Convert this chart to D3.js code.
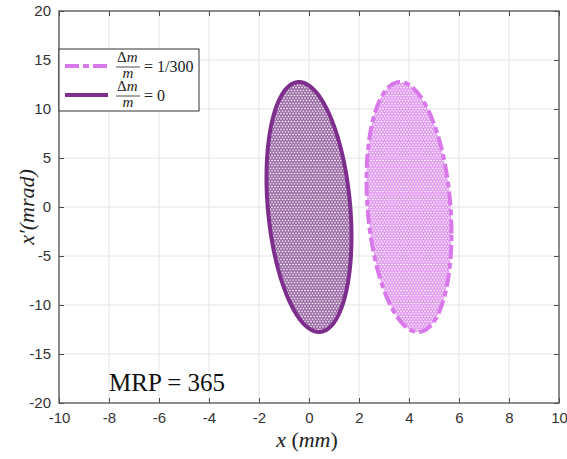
<!DOCTYPE html>
<html>
<head>
<meta charset="utf-8">
<script src="https://cdn.jsdelivr.net/npm/d3@7"></script>
<style>
  html, body { margin: 0; padding: 0; background: #fff; }
</style>
</head>
<body>
<div id="chart"></div>
<script>
// axis setup
var xDomain = [-10, 10];
var yDomain = [-20, 20];
var xTicks = [-10, -8, -6, -4, -2, 0, 2, 4, 6, 8, 10];
var yTicks = [-20, -15, -10, -5, 0, 5, 10, 15, 20];

// beam ellipses: centre, half extents, x offset of the top point
var seriesNames = ['1/300', '0'];
var centreX = [4.0, 0.0];
var centreY = [0, 0];
var halfX = [1.7, 1.7];
var halfY = [12.75, 12.75];
var topOffsetX = [-0.36, -0.4];
var strokeColors = ['#d878ea', '#7e2f8e'];
var meshColors = ['#de94ee', '#93609f'];
var dashes = ['14,4,6,4', null];

var SANS = '"Liberation Sans", Arial, sans-serif';
var SERIF = '"Liberation Serif", "Times New Roman", serif';

var width = 567, height = 459;
var margin = { top: 11, right: 8, bottom: 56, left: 59 };
var plotWidth = width - margin.left - margin.right;
var plotHeight = height - margin.top - margin.bottom;

var svg = d3.select('#chart').append('svg')
    .attr('width', width)
    .attr('height', height);

// hex dot mesh for the particle fill
var defs = svg.append('defs');
meshColors.forEach(function(c, i) {
    var p = defs.append('pattern')
        .attr('id', 'mesh' + i)
        .attr('patternUnits', 'userSpaceOnUse')
        .attr('width', 3)
        .attr('height', 5.2);
    p.append('rect').attr('width', 3).attr('height', 5.2).attr('fill', c);
    [[1.5, 1.3], [0, 3.9], [3, 3.9]].forEach(function(d) {
        p.append('circle').attr('cx', d[0]).attr('cy', d[1]).attr('r', 0.95).attr('fill', '#fbf4fc');
    });
});

var g = svg.append('g')
    .attr('transform', 'translate(' + margin.left + ',' + margin.top + ')');

var xScale = d3.scaleLinear().domain(xDomain).range([0, plotWidth]);
var yScale = d3.scaleLinear().domain(yDomain).range([plotHeight, 0]);

// grid
g.selectAll('.gx').data(xTicks).enter().append('line')
    .attr('x1', function(d) { return xScale(d); })
    .attr('x2', function(d) { return xScale(d); })
    .attr('y1', 0).attr('y2', plotHeight)
    .attr('stroke', '#e4e4e4').attr('stroke-width', 1);
g.selectAll('.gy').data(yTicks).enter().append('line')
    .attr('y1', function(d) { return yScale(d); })
    .attr('y2', function(d) { return yScale(d); })
    .attr('x1', 0).attr('x2', plotWidth)
    .attr('stroke', '#e4e4e4').attr('stroke-width', 1);

// ellipses
function ellipsePoints(i) {
    var d = Math.acos(topOffsetX[i] / halfX[i]);
    var pts = [];
    for (var k = 0; k <= 240; k++) {
        var t = k / 240 * 2 * Math.PI;
        pts.push([centreX[i] + halfX[i] * Math.cos(t), centreY[i] + halfY[i] * Math.cos(t - d)]);
    }
    return pts;
}
var line = d3.line()
    .x(function(d) { return xScale(d[0]); })
    .y(function(d) { return yScale(d[1]); })
    .curve(d3.curveLinearClosed);

seriesNames.forEach(function(name, i) {
    g.append('path')
        .attr('d', line(ellipsePoints(i)))
        .attr('fill', 'url(#mesh' + i + ')')
        .attr('stroke', strokeColors[i])
        .attr('stroke-width', 4)
        .attr('stroke-dasharray', dashes[i]);
});

// axes with inward ticks on all sides
var plain = function(d) { return String(d); };
function styleAxis(sel) {
    sel.select('.domain').remove();
    sel.selectAll('.tick line').attr('stroke', '#4d4d4d');
    sel.selectAll('.tick text').attr('fill', '#333')
        .style('font-size', '15px')
        .style('font-family', SANS);
}
g.append('g').attr('transform', 'translate(0,' + plotHeight + ')')
    .call(d3.axisBottom(xScale).tickValues(xTicks).tickFormat(plain).tickSizeInner(-5).tickPadding(9))
    .call(styleAxis);
g.append('g')
    .call(d3.axisTop(xScale).tickValues(xTicks).tickSizeInner(-5).tickFormat(''))
    .call(styleAxis);
g.append('g')
    .call(d3.axisLeft(yScale).tickValues(yTicks).tickFormat(plain).tickSizeInner(-5).tickPadding(8))
    .call(styleAxis);
g.append('g').attr('transform', 'translate(' + plotWidth + ',0)')
    .call(d3.axisRight(yScale).tickValues(yTicks).tickSizeInner(-5).tickFormat(''))
    .call(styleAxis);

g.append('rect')
    .attr('width', plotWidth).attr('height', plotHeight)
    .attr('fill', 'none').attr('stroke', '#555').attr('stroke-width', 1.3);

// axis labels
svg.append('text')
    .attr('x', margin.left + plotWidth / 2 - 2)
    .attr('y', 447)
    .attr('text-anchor', 'middle')
    .style('font-family', SERIF)
    .style('font-size', '22px')
    .attr('fill', '#222')
    .html('<tspan font-style="italic">x</tspan> (<tspan font-style="italic">mm</tspan>)');

svg.append('text')
    .attr('transform', 'translate(34,' + (margin.top + yScale(0)) + ') rotate(-90)')
    .attr('text-anchor', 'middle')
    .style('font-family', SERIF)
    .style('font-style', 'italic')
    .style('font-size', '22px')
    .attr('fill', '#222')
    .text('x\u2032(mrad)');

// annotation
g.append('text')
    .attr('x', xScale(-8))
    .attr('y', yScale(-18.8))
    .style('font-family', SERIF)
    .style('font-size', '25px')
    .attr('fill', '#111')
    .text('MRP = 365');

// legend
var lg = svg.append('g').attr('transform', 'translate(' + margin.left + ',49)');
lg.append('rect')
    .attr('width', 140).attr('height', 62)
    .attr('fill', '#fff').attr('stroke', '#333').attr('stroke-width', 1);
seriesNames.forEach(function(name, i) {
    var yy = 17 + i * 29;
    lg.append('line')
        .attr('x1', 6).attr('x2', 49)
        .attr('y1', yy).attr('y2', yy)
        .attr('stroke', strokeColors[i])
        .attr('stroke-width', 4)
        .attr('stroke-dasharray', dashes[i]);
    lg.append('text').attr('x', 58).attr('y', yy - 4)
        .style('font-family', SERIF).style('font-size', '15px').attr('fill', '#222')
        .html('\u0394<tspan font-style="italic">m</tspan>');
    lg.append('line').attr('x1', 57).attr('x2', 81).attr('y1', yy + 1).attr('y2', yy + 1)
        .attr('stroke', '#222').attr('stroke-width', 0.8);
    lg.append('text').attr('x', 69).attr('y', yy + 12)
        .attr('text-anchor', 'middle')
        .style('font-family', SERIF).style('font-style', 'italic').style('font-size', '15px').attr('fill', '#222')
        .text('m');
    lg.append('text').attr('x', 85).attr('y', yy + 6)
        .style('font-family', SERIF).style('font-size', '16px').attr('fill', '#222')
        .text('= ' + name);
});
</script>
</body>
</html>
